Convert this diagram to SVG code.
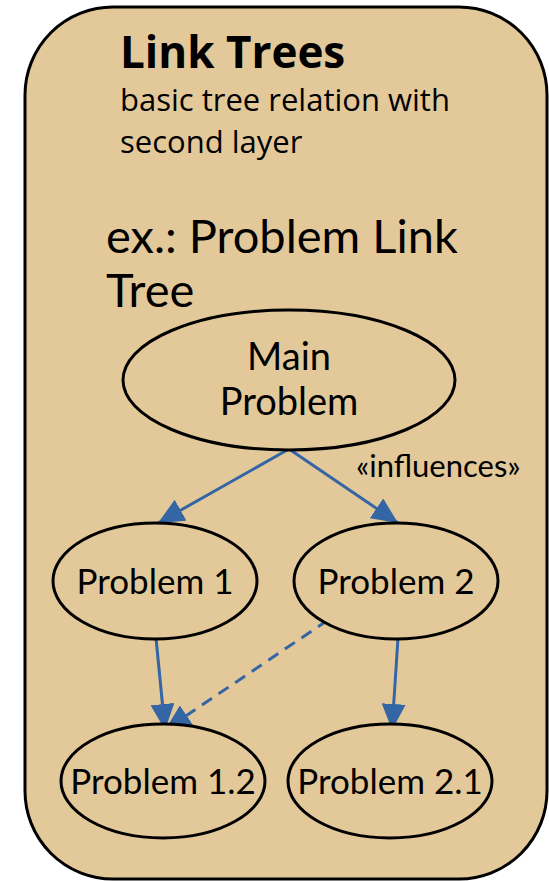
<svg xmlns="http://www.w3.org/2000/svg" width="549" height="881" viewBox="0 0 549 881">
<style>
.t{font-family:Lato,"Open Sans","Liberation Sans",sans-serif;fill:#000}
.o{font-family:"Open Sans","Noto Sans","Liberation Sans",sans-serif;fill:#000}
.n{fill:#e3c99a;stroke:#000;stroke-width:3}
.c{stroke:#3465a4;stroke-width:3;fill:none}
</style>
<defs>
<marker id="ah" markerUnits="userSpaceOnUse" markerWidth="28" markerHeight="24" refX="26" refY="12" orient="auto">
<path d="M0,0 L26,12 L0,24 Z" fill="#3465a4"/>
</marker>
</defs>
<rect x="25" y="7" width="522" height="872" rx="88" ry="88" fill="#e3c99a" stroke="#000" stroke-width="3"/>
<text class="o" x="120" y="68" font-size="44" font-weight="bold">Link Trees</text>
<text class="o" x="120" y="111" font-size="31">basic tree relation with</text>
<text class="o" x="120" y="153" font-size="31">second layer</text>
<text class="t" x="106" y="253" font-size="47">ex.: Problem Link</text>
<text class="t" x="106" y="307" font-size="47">Tree</text>
<g id="connectors">
<line class="c" x1="289" y1="449" x2="158" y2="523" marker-end="url(#ah)"/>
<line class="c" x1="289" y1="449" x2="398" y2="523" marker-end="url(#ah)"/>
<line class="c" x1="156" y1="638" x2="165" y2="730" marker-end="url(#ah)"/>
<line class="c" x1="398" y1="638" x2="392" y2="730" marker-end="url(#ah)"/>
<line class="c" x1="328" y1="620" x2="165" y2="730" stroke-dasharray="12,8" marker-end="url(#ah)"/>
<text class="t" x="356" y="477" font-size="31">«influences»</text>
</g>
<g id="main">
<ellipse class="n" cx="289" cy="380" rx="166" ry="70"/>
<text class="t" x="289" y="370" font-size="38" text-anchor="middle">Main</text>
<text class="t" x="289" y="415" font-size="38" text-anchor="middle">Problem</text>
</g>
<g id="p1">
<ellipse class="n" cx="155" cy="581" rx="102" ry="58"/>
<text class="t" x="155" y="594" font-size="35" text-anchor="middle">Problem 1</text>
</g>
<g id="p2">
<ellipse class="n" cx="396" cy="581" rx="102" ry="58"/>
<text class="t" x="396" y="594" font-size="35" text-anchor="middle">Problem 2</text>
</g>
<g id="p12">
<ellipse class="n" cx="163" cy="781" rx="102" ry="57"/>
<text class="t" x="163" y="794" font-size="35" text-anchor="middle">Problem 1.2</text>
</g>
<g id="p21">
<ellipse class="n" cx="390" cy="781" rx="102" ry="57"/>
<text class="t" x="390" y="794" font-size="35" text-anchor="middle">Problem 2.1</text>
</g>
</svg>
